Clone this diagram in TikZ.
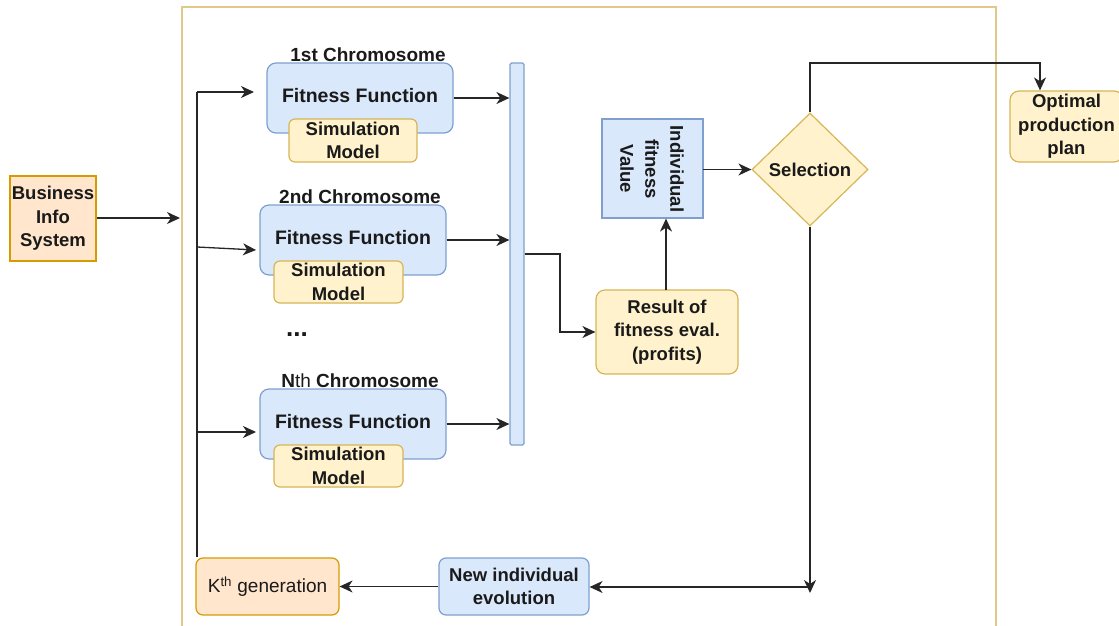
\documentclass[tikz,border=0pt]{standalone}
\usepackage{fontspec}
\setmainfont{Liberation Sans}
\usetikzlibrary{arrows.meta,shapes.geometric}
\definecolor{bfill}{HTML}{DAE8FC}
\definecolor{bdraw}{HTML}{7FA0CF}
\definecolor{yfill}{HTML}{FFF2CC}
\definecolor{ydraw}{HTML}{D6B656}
\definecolor{ofill}{HTML}{FFE6CC}
\definecolor{odraw}{HTML}{D79B00}
\definecolor{frame}{HTML}{E2C88A}
\definecolor{txt}{HTML}{1A1A1A}
\begin{document}
\begin{tikzpicture}[x=1pt,y=-1pt,
  base/.style={align=center,inner sep=0pt,line width=1.2pt,text=txt,
    font=\fontsize{18.5}{23.5}\selectfont\bfseries},
  bluebox/.style={base,fill=bfill,draw=bdraw,rounded corners=9pt},
  yellowbox/.style={base,fill=yfill,draw=ydraw,rounded corners=6pt},
  orangebox/.style={base,fill=ofill,draw=odraw},
  lbl/.style={text=txt,inner sep=0pt,font=\fontsize{19}{23}\selectfont\bfseries},
  arr/.style={line width=1.3pt,draw=black!85,-{Stealth[length=13pt,width=12pt,inset=4pt]}},
  ln/.style={line width=1.3pt,draw=black!85}]
\useasboundingbox (0,0) rectangle (1119,626);
\clip (0,0) rectangle (1119,626);
% outer frame
\draw[line width=1.2pt,draw=frame] (182,640) -- (182,7) -- (996,7) -- (996,640);

\node[orangebox,minimum width=86pt,minimum height=85pt] (bis) at (53,218.5) {Business\\Info\\System};

\node[bluebox,minimum width=186pt,minimum height=70pt,text depth=6pt] (ff1) at (360,98) {\fontsize{19.5}{23}\selectfont Fitness Function};
\node[yellowbox,minimum width=128pt,minimum height=43pt] (sm1) at (353,140.5) {Simulation\\Model};
\node[lbl] (l1) at (368,55) {1st Chromosome};

\node[bluebox,minimum width=186pt,minimum height=70pt,text depth=6pt] (ff2) at (353,240) {\fontsize{19.5}{23}\selectfont Fitness Function};
\node[yellowbox,minimum width=129pt,minimum height=42pt] (sm2) at (338.5,282) {Simulation\\Model};
\node[lbl] (l2) at (360,197) {2nd Chromosome};

\node[lbl,font=\fontsize{26}{26}\selectfont\bfseries] (dots) at (297,335) {...};

\node[bluebox,minimum width=186pt,minimum height=70pt,text depth=6pt] (ffn) at (353,424) {\fontsize{19.5}{23}\selectfont Fitness Function};
\node[yellowbox,minimum width=129pt,minimum height=42pt] (smn) at (338.5,466) {Simulation\\Model};
\node[lbl] (ln) at (360,381) {N{\mdseries th} Chromosome};

\node[base,fill=bfill,draw=bdraw,rounded corners=1.5pt,minimum width=14pt,minimum height=382pt] (bar) at (517,254) {};

\node[yellowbox,rounded corners=9pt,minimum width=142pt,minimum height=84pt] (res) at (667,332) {Result of\\fitness eval.\\(profits)};

\node[base,fill=bfill,draw=bdraw,minimum width=101pt,minimum height=99pt] (ifv) at (652.5,168.5) {};
\node[base,rotate=-90,font=\fontsize{18.5}{25}\selectfont\bfseries] (ifvt) at (652,169) {Individual\\fitness\\Value};

\node[base,shape=diamond,fill=yfill,draw=ydraw,minimum width=116pt,minimum height=113pt] (sel) at (810,169.5) {Selection};

\node[yellowbox,rounded corners=9pt,minimum width=113pt,minimum height=71pt] (opt) at (1066.5,126.5) {Optimal\\production\\plan};

\node[bluebox,rounded corners=7pt,minimum width=150pt,minimum height=57pt] (newi) at (514,586.5) {New individual\\evolution};
\node[orangebox,rounded corners=7pt,minimum width=143pt,minimum height=57pt,font=\fontsize{19}{22}\selectfont] (kth) at (267.5,586.5) {K\textsuperscript{th} generation};

% connectors
\coordinate (fin) at (180,218);
\draw[arr] (bis.east |- fin) -- (fin);

\coordinate (v0) at (197,557);
\coordinate (v1) at (197,92);
\coordinate (a1) at (254,92);
\coordinate (b2) at (197,247);
\coordinate (a2) at (256,250);
\coordinate (b3) at (197,432);
\coordinate (a3) at (256,432);
\draw[ln] (v0) -- (v1);
\draw[arr] (v1) -- (a1);
\draw[arr] (b2) -- (a2);
\draw[arr] (b3) -- (a3);

\draw[arr] (ff1.east) -- (ff1.east -| bar.west);
\draw[arr] (ff2.east) -- (ff2.east -| bar.west);
\draw[arr] (ffn.east) -- (ffn.east -| bar.west);

\coordinate (bk) at (560,254);
\draw[arr] (bar.east) -- (bk) |- (res.west);

\coordinate (rtop) at (666,290);
\draw[arr] (rtop) -- (rtop |- ifv.south);

\coordinate (sl) at (703,169.5);
\draw[arr] (sl) -- (sel.west);

\coordinate (t1) at (810,63);
\coordinate (t2) at (1040,63);
\draw[arr] (sel.north) -- (t1) -- (t2) -- (t2 |- opt.north);

\coordinate (d1) at (810,593);
\coordinate (d2) at (810,587);
\draw[arr] (sel.south) -- (d1);
\draw[arr] (d2) -- (d2 -| newi.east);

\draw[arr] (newi.west) -- (kth.east);
\end{tikzpicture}
\end{document}
